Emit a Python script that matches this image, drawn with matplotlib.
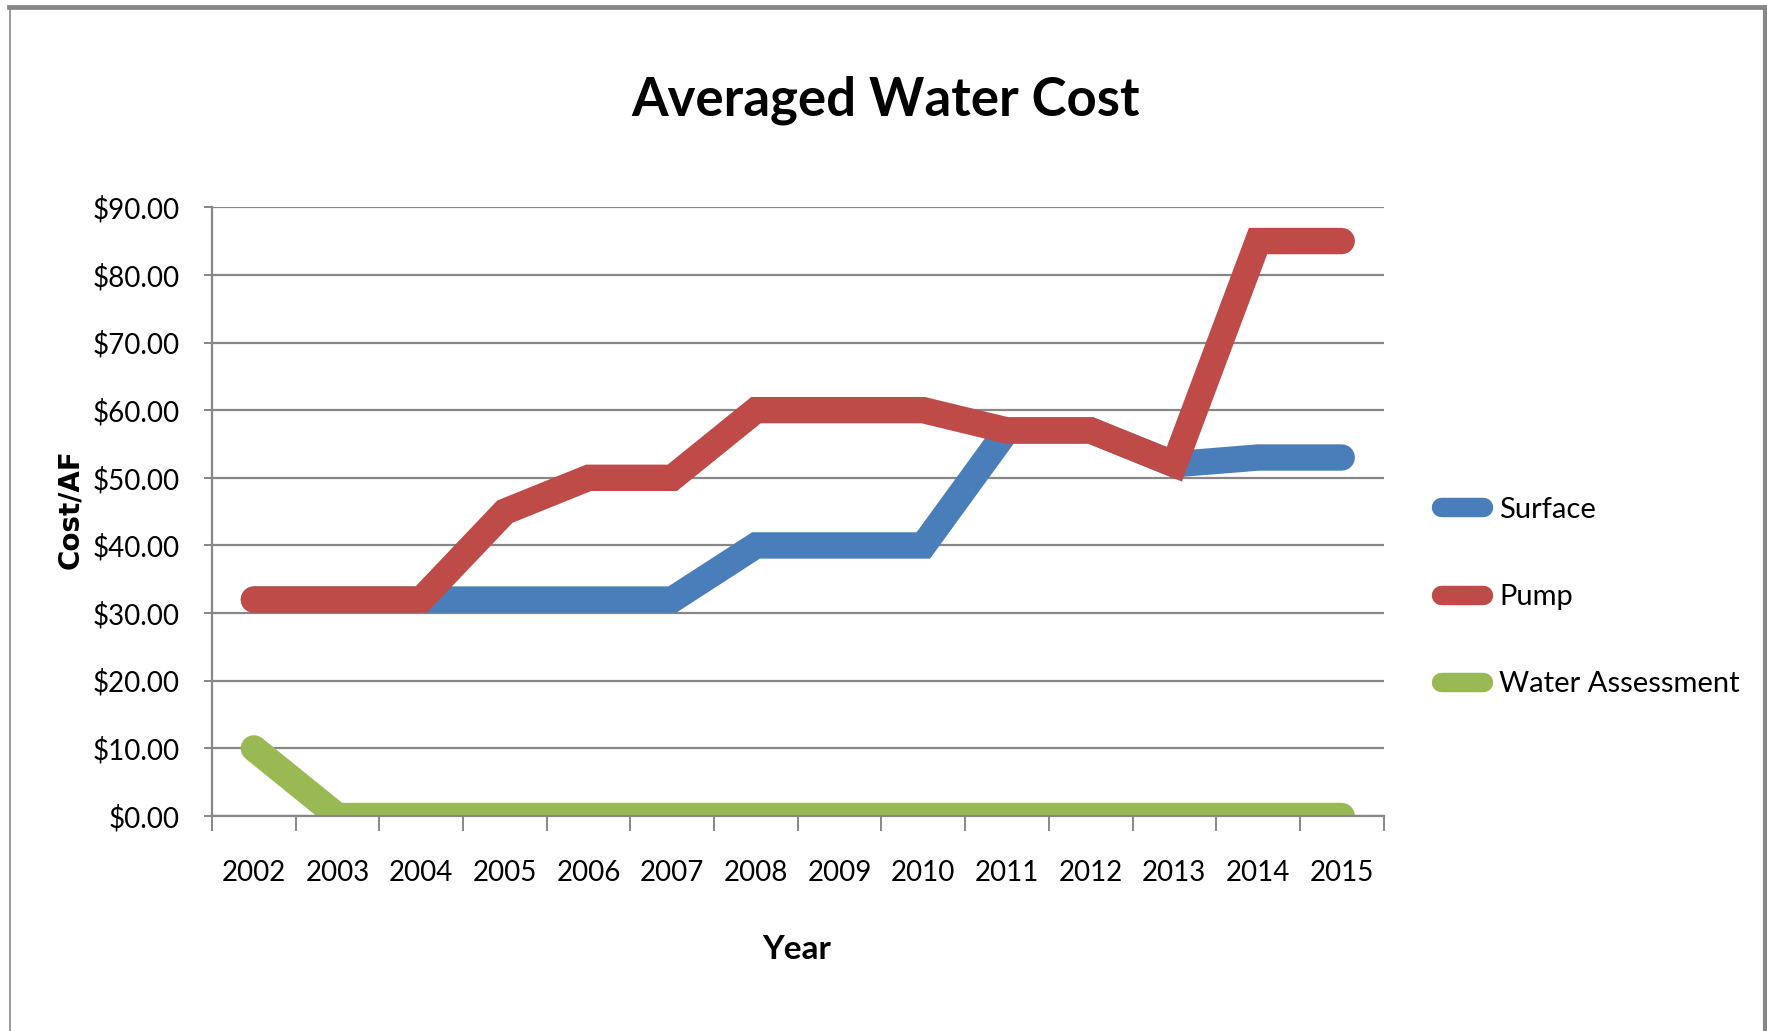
import matplotlib
matplotlib.use("Agg")
import matplotlib.pyplot as plt
from matplotlib.lines import Line2D
from matplotlib.ticker import FixedLocator, FuncFormatter


YEARS = ["2002", "2003", "2004", "2005", "2006", "2007", "2008",
         "2009", "2010", "2011", "2012", "2013", "2014", "2015"]
SURFACE = [32, 32, 32, 32, 32, 32, 40, 40, 40, 57, 57, 52, 53, 53]
PUMP = [32, 32, 32, 45, 50, 50, 60, 60, 60, 57, 57, 52, 85, 85]
WATER_ASSESSMENT = [10, 0, 0, 0, 0, 0, 0, 0, 0, 0, 0, 0, 0, 0]

SERIES = [
    ("Surface", SURFACE, "#4A7EBB"),
    ("Pump", PUMP, "#BE4B48"),
    ("Water Assessment", WATER_ASSESSMENT, "#98B954"),
]

GRID = "#878787"

plt.rcParams["font.family"] = ["Lato", "DejaVu Sans"]

fig = plt.figure(figsize=(17.67, 10.31), dpi=100)
ax = fig.add_axes([0.120, 0.2085, 0.663, 0.5905])

x = list(range(len(YEARS)))
for name, values, color in SERIES:
    ax.plot(x, values, color=color, linewidth=19, label=name,
            solid_capstyle="round", solid_joinstyle="miter")

ax.set_xlim(-0.5, len(YEARS) - 0.5)
ax.set_ylim(0, 90)
ax.set_yticks(range(0, 91, 10))
ax.yaxis.set_major_formatter(FuncFormatter(lambda v, _: f"${v:.2f}"))
ax.grid(axis="y", color=GRID, linewidth=1.6)
ax.set_axisbelow(True)

ax.set_xticks(x)
ax.set_xticklabels(YEARS)
ax.xaxis.set_minor_locator(FixedLocator([i - 0.5 for i in range(len(YEARS) + 1)]))
ax.tick_params(axis="x", which="major", length=0, pad=32, labelsize=20)
ax.tick_params(axis="x", which="minor", length=11, width=1.4, color=GRID)
ax.tick_params(axis="y", length=6, width=1.4, color=GRID, pad=17, labelsize=20)

for side in ("top", "right"):
    ax.spines[side].set_visible(False)
for side in ("left", "bottom"):
    ax.spines[side].set_color(GRID)
    ax.spines[side].set_linewidth(1.6)

fig.text(0.5014, 0.903, "Averaged Water Cost", ha="center", va="center",
         fontsize=38, fontweight="bold")
fig.text(0.451, 0.0786, "Year", ha="center", va="center",
         fontsize=24, fontweight="bold")
fig.text(0.0396, 0.5063, "Cost/AF", ha="center", va="center", rotation=90,
         fontsize=20, fontweight="bold", family="DejaVu Sans")

leg = ax.legend(loc="center left", bbox_to_anchor=(0.8155, 0.421),
                bbox_transform=fig.transFigure, frameon=False, fontsize=21,
                handlelength=1.45, handletextpad=0.55, labelspacing=2.1,
                borderpad=0, borderaxespad=0)
for handle in leg.get_lines():
    handle.set_linewidth(14)

# chart border like the spreadsheet frame
fig.add_artist(Line2D([9 / 1767, 1], [1 - 7 / 1031] * 2, color=GRID,
                      linewidth=3.4, transform=fig.transFigure))
fig.add_artist(Line2D([9.5 / 1767] * 2, [0, 1 - 7 / 1031], color=GRID,
                      linewidth=1.2, transform=fig.transFigure))
fig.add_artist(Line2D([1765 / 1767] * 2, [0, 1 - 7 / 1031], color=GRID,
                      linewidth=3.0, transform=fig.transFigure))

fig.savefig("out.png", dpi=100)
